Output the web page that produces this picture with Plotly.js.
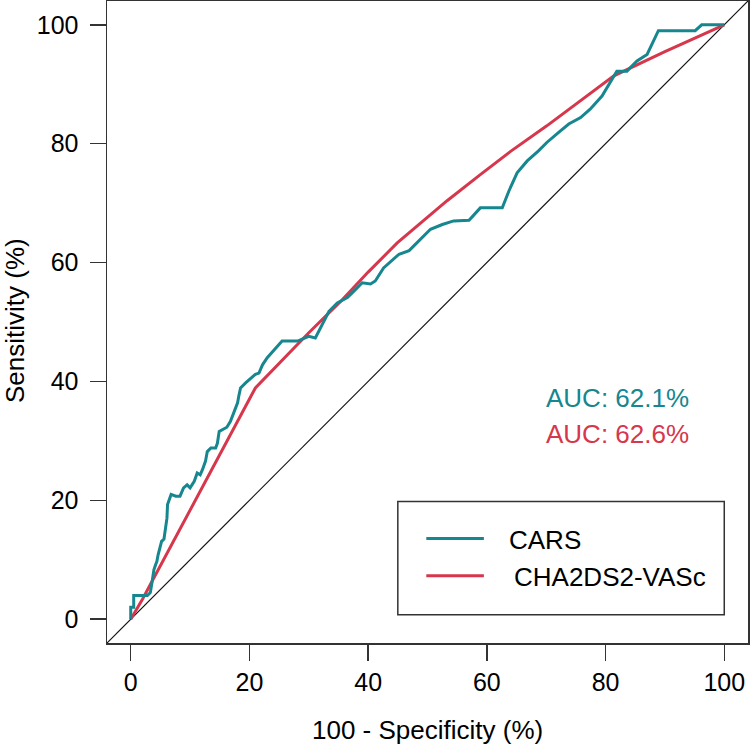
<!DOCTYPE html>
<html>
<head>
<meta charset="utf-8">
<script src="https://cdn.plot.ly/plotly-3.0.1.min.js"></script>
<style>html,body{margin:0;padding:0;background:#fff;}#chart{width:750px;height:744px;}</style>
</head>
<body>
<div id="chart"></div>
<script>
// CARS ROC curve (100 - specificity, sensitivity), %
const carsX = [0,0,0.5,0.5,2.8,3.3,3.6,3.9,4.2,4.4,4.6,4.8,5.0,5.2,5.6,5.9,6.1,6.2,6.8,7.6,8.3,8.9,9.5,10.0,10.7,11.2,11.7,12.1,12.6,12.9,13.5,14.3,14.6,14.9,15.4,16.2,16.8,17.3,17.7,18.0,18.2,18.5,19.4,21.0,21.6,22.2,23.0,24.4,25.5,28.1,30.0,31.1,32.0,33.4,34.8,36.5,37.6,39.0,40.4,41.2,42.6,44.1,45.2,46.9,48.8,50.5,52.5,54.4,57.0,58.9,62.6,63.7,65.1,66.8,68.7,70.1,72.1,73.8,75.8,77.4,79.4,80.8,81.9,83.6,85.3,87.0,88.9,95.1,96.2,100];
const carsY = [0,2,2,4,4,4.5,6.3,8.3,9.2,9.7,10.8,11.7,12.2,13.1,13.5,15.3,17.0,19.3,21.0,20.7,20.7,22.1,22.6,22.1,23.2,24.6,24.3,25.2,26.6,28.2,28.8,28.8,29.6,31.6,31.9,32.3,33.3,34.7,35.5,36.4,37.5,38.9,39.8,41.2,41.4,42.8,44.0,45.6,46.8,46.8,47.6,47.3,49.0,51.8,53.2,54.1,55.2,56.6,56.4,56.9,59.1,60.5,61.4,62.0,63.9,65.6,66.4,67.0,67.1,69.2,69.2,72.0,75.1,77.1,78.8,80.2,81.9,83.3,84.4,85.8,88.0,90.3,92.2,92.2,93.9,95.0,99.0,99.0,100,100];
// CHA2DS2-VASc ROC curve
const chaX = [0,2,21,25.3,30,35.4,40,44.9,50,53.3,58.9,64,70.1,75.8,81.4,90,100];
const chaY = [0,3.4,38.9,43.4,48.2,53.5,58.4,63.3,67.6,70.4,74.8,78.7,83.0,87.2,91.4,95.5,100];
// chance diagonal
const diagX = [-4,104];
const diagY = [-4,104];
const tickVals = [0,20,40,60,80,100];
const seriesNames = ["CARS","CHA2DS2-VASc"];
const aucLabels = ["AUC: 62.1%","AUC: 62.6%"];

const teal = "#16868f";
const red = "#d6374c";
const font = "Liberation Sans, Arial, Helvetica, sans-serif";

const traces = [
  {x: diagX, y: diagY, mode: "lines", line: {color: "#111", width: 1.2}, hoverinfo: "skip", showlegend: false},
  {x: chaX, y: chaY, mode: "lines", name: seriesNames[1], line: {color: red, width: 3}},
  {x: carsX, y: carsY, mode: "lines", name: seriesNames[0], line: {color: teal, width: 3}}
];

const axisCommon = {
  range: [-4,104], tickvals: tickVals, ticktext: tickVals.map(String),
  ticks: "outside", ticklen: 16, tickwidth: 1.5, tickcolor: "#333",
  showline: true, mirror: true, linecolor: "#333", linewidth: 1.5,
  showgrid: false, zeroline: false, fixedrange: true,
  tickfont: {family: font, size: 25, color: "#000"}
};

const layout = {
  width: 750, height: 744,
  margin: {l: 107, r: 2, t: 1, b: 101},
  paper_bgcolor: "#fff", plot_bgcolor: "#fff",
  showlegend: false,
  xaxis: Object.assign({}, axisCommon, {ticklabelstandoff: 0}),
  yaxis: Object.assign({}, axisCommon, {ticklabelstandoff: 6}),
  shapes: [
    {type: "rect", xref: "x", yref: "y", x0: 45, x1: 100, y0: 0.74, y1: 19.8, line: {color: "#333", width: 1.5}, fillcolor: "rgba(0,0,0,0)"},
    {type: "line", xref: "x", yref: "y", x0: 49.8, x1: 59.5, y0: 13.6, y1: 13.6, line: {color: teal, width: 3}},
    {type: "line", xref: "x", yref: "y", x0: 49.8, x1: 59.5, y0: 7.3, y1: 7.3, line: {color: red, width: 3}}
  ],
  annotations: [
    {xref: "x", yref: "y", x: 63.4, y: 13.4, xanchor: "left", yanchor: "middle", text: seriesNames[0], showarrow: false, font: {family: font, size: 26, color: "#000"}},
    {xref: "x", yref: "y", x: 64.2, y: 7.1, xanchor: "left", yanchor: "middle", text: seriesNames[1], showarrow: false, font: {family: font, size: 26, color: "#000"}},
    {xref: "x", yref: "y", x: 82, y: 37.2, xanchor: "center", yanchor: "middle", text: aucLabels[0], showarrow: false, font: {family: font, size: 26, color: teal}},
    {xref: "x", yref: "y", x: 82, y: 31.1, xanchor: "center", yanchor: "middle", text: aucLabels[1], showarrow: false, font: {family: font, size: 26, color: red}},
    {xref: "paper", yref: "paper", x: 0.5, y: -0.1355, xanchor: "center", yanchor: "middle", text: "100 - Specificity (%)", showarrow: false, font: {family: font, size: 26, color: "#000"}},
    {xref: "paper", yref: "paper", x: -0.1435, y: 0.5016, xanchor: "center", yanchor: "middle", textangle: -90, text: "Sensitivity (%)", showarrow: false, font: {family: font, size: 26, color: "#000"}}
  ]
};

Plotly.newPlot("chart", traces, layout, {displayModeBar: false, staticPlot: true});
</script>
</body>
</html>
